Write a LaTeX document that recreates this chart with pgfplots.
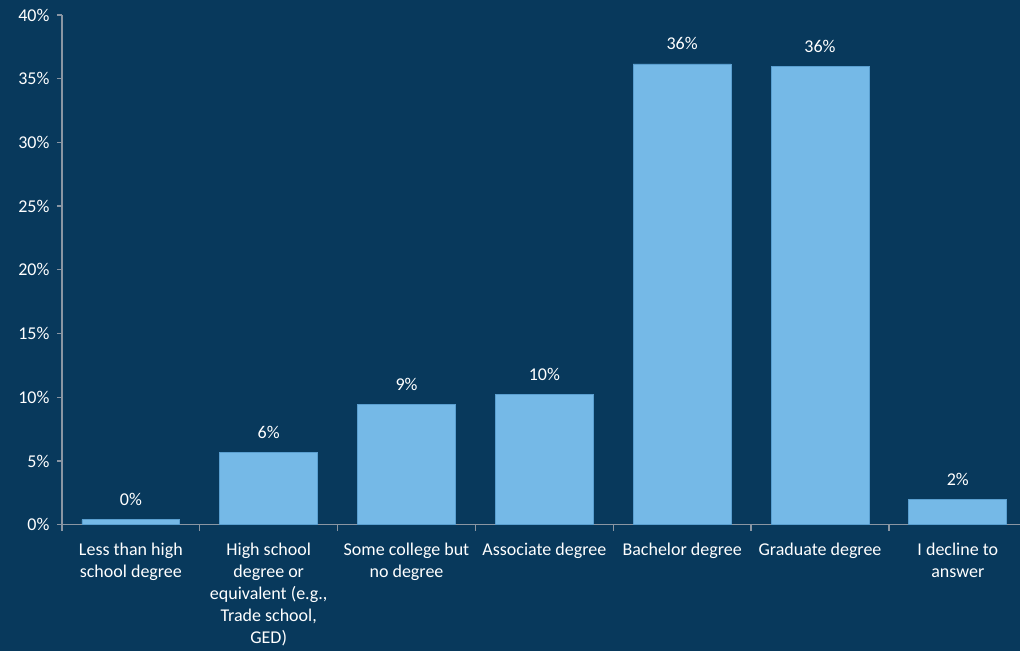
\documentclass[border=0pt]{standalone}
\usepackage{pgfplots}
\pgfplotsset{compat=1.18}
\usepackage{fontspec}
\setmainfont{Carlito}
\definecolor{bg}{HTML}{08395C}
\definecolor{barfill}{HTML}{75B9E7}
\definecolor{baredge}{HTML}{5A9FD0}
\definecolor{axisgray}{HTML}{8A96A3}
\begin{document}
\begin{tikzpicture}[x=1pt,y=1pt]
\fill[bg] (0,0) rectangle (1021,651);
\begin{axis}[
  at={(62pt,126pt)}, anchor=south west,
  scale only axis, width=959pt, height=510pt,
  xmin=-0.5, xmax=6.454, ymin=0, ymax=40,
  axis lines*=left,
  axis line style={axisgray, line width=1.3pt},
  ybar, bar width=98pt,
  ytick={0,5,...,40},
  yticklabel={\pgfmathprintnumber{\tick}\%},
  /pgf/number format/assume math mode=true,
  xtick={0,...,6},
  xticklabels={{Less than high\\school degree},{High school\\degree or\\equivalent (e.g.,\\Trade school,\\GED)},{Some college but\\no degree},{Associate degree},{Bachelor degree},{Graduate degree},{I decline to\\answer}},
  minor xtick={-0.5,0.5,...,5.5},
  tick align=outside,
  major x tick style={draw=none},
  minor x tick style={axisgray, line width=1.3pt},
  y tick style={axisgray, line width=1.3pt},
  major tick length=5pt, minor tick length=6pt,
  tick label style={font=\fontsize{18}{22}\selectfont, text=white},
  x tick label style={align=center, inner sep=0pt, yshift=-13pt},
  y tick label style={xshift=-4pt},
  nodes near coords,
  point meta=explicit symbolic,
  nodes near coords style={font=\fontsize{18}{22}\selectfont, text=white, anchor=base, yshift=14pt, inner sep=0pt},
  clip=false,
]
\addplot[fill=barfill, draw=baredge, line width=0.8pt] coordinates {
  (0,0.4) [0\%]
  (1,5.7) [6\%]
  (2,9.47) [9\%]
  (3,10.25) [10\%]
  (4,36.16) [36\%]
  (5,35.96) [36\%]
  (6,1.96) [2\%]
};
\end{axis}
\end{tikzpicture}
\end{document}
